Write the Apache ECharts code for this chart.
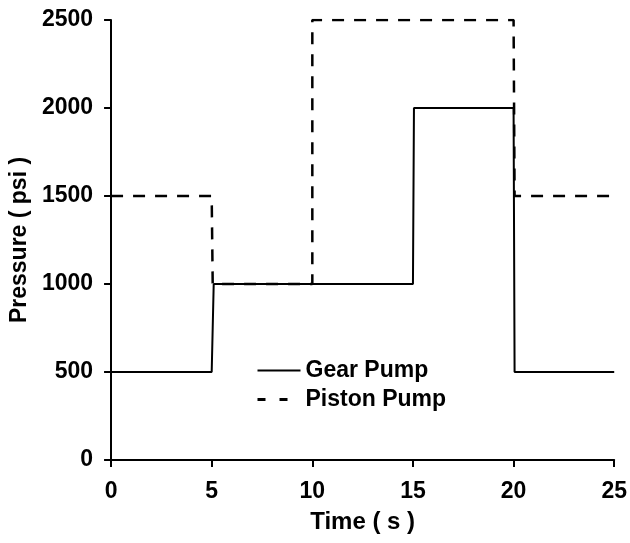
<!DOCTYPE html>
<html>
<head>
<meta charset="utf-8">
<script src="https://cdn.jsdelivr.net/npm/echarts@6/dist/echarts.min.js"></script>
<style>
html,body{margin:0;padding:0;background:#fff;}
#c{width:630px;height:543px;}
</style>
</head>
<body>
<div id="c"></div>
<script>
const gearX = [0, 5, 5.1, 15, 15.05, 20, 20.05, 25];
const gearY = [500, 500, 1000, 1000, 2000, 2000, 500, 500];
const pistonX = [0, 5, 5.05, 10, 10, 20, 20.05, 25];
const pistonY = [1500, 1500, 1000, 1000, 2500, 2500, 1500, 1500];
const seriesNames = ['Gear Pump', 'Piston Pump'];
const xTitle = 'Time ( s )';
const yTitle = 'Pressure ( psi )';

const FONT = "'Liberation Sans', Arial, sans-serif";
const chart = echarts.init(document.getElementById('c'), null, {renderer: 'canvas'});
const pairs = (xs, ys) => xs.map((x, i) => [x, ys[i]]);

chart.setOption({
  animation: false,
  backgroundColor: '#fff',
  grid: {left: 108, right: 13, top: 20, bottom: 83, containLabel: false},
  legend: {
    left: 251, top: 354, orient: 'vertical',
    itemWidth: 43, itemHeight: 14, itemGap: 6,
    textStyle: {fontFamily: FONT, fontWeight: 'bold', fontSize: 23, color: '#000'},
    data: [
      {name: seriesNames[0], itemStyle: {opacity: 0, borderWidth: 0},
        lineStyle: {color: '#000', width: 2, type: 'solid', opacity: 1}},
      {name: seriesNames[1], itemStyle: {opacity: 0, borderWidth: 0},
        lineStyle: {color: '#000', width: 3, type: [8, 14], opacity: 1}}
    ]
  },
  xAxis: {
    type: 'value', min: 0, max: 25, interval: 5,
    name: xTitle, nameLocation: 'middle', nameGap: 50,
    nameTextStyle: {fontFamily: FONT, fontWeight: 'bold', fontSize: 24, color: '#000'},
    axisLine: {show: true, onZero: false, lineStyle: {color: '#000', width: 2}},
    axisTick: {show: true, length: 7, lineStyle: {color: '#000', width: 2}},
    axisLabel: {fontFamily: FONT, fontWeight: 'bold', fontSize: 23, color: '#000', margin: 20},
    splitLine: {show: false}
  },
  yAxis: {
    type: 'value', min: 0, max: 2500, interval: 500,
    name: yTitle, nameLocation: 'middle', nameGap: 78, nameRotate: 90,
    nameTextStyle: {fontFamily: FONT, fontWeight: 'bold', fontSize: 23, color: '#000'},
    axisLine: {show: true, lineStyle: {color: '#000', width: 2}},
    axisTick: {show: true, length: 7, lineStyle: {color: '#000', width: 2}},
    axisLabel: {fontFamily: FONT, fontWeight: 'bold', fontSize: 23, color: '#000', margin: 18,
      formatter: v => String(v)},
    splitLine: {show: false}
  },
  series: [
    {
      name: seriesNames[0], type: 'line', symbol: 'none',
      data: pairs(gearX, gearY),
      lineStyle: {color: '#000', width: 2, type: 'solid'},
      itemStyle: {color: '#000'}
    },
    {
      name: seriesNames[1], type: 'line', symbol: 'none',
      data: pairs(pistonX, pistonY),
      lineStyle: {color: '#000', width: 2.5, type: [12, 10]},
      itemStyle: {color: '#000'}
    }
  ]
});
</script>
</body>
</html>
